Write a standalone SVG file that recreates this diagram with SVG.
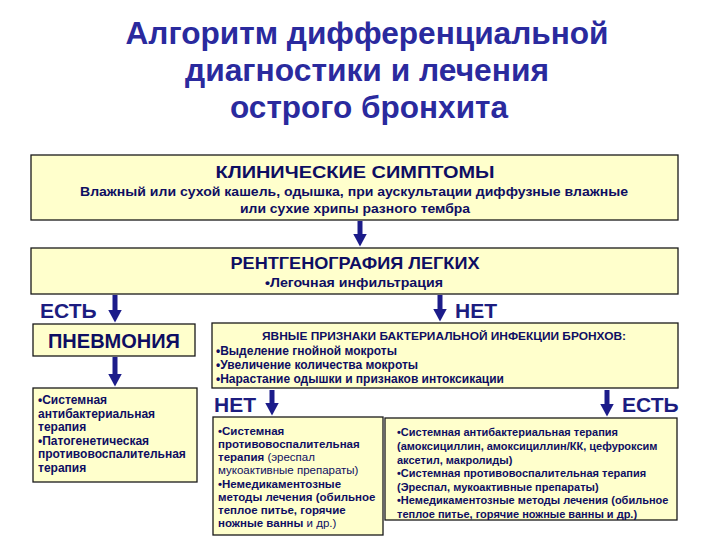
<svg xmlns="http://www.w3.org/2000/svg" width="720" height="540" viewBox="0 0 720 540">
<defs>
<style>
text{font-family:"Liberation Sans",Arial,"DejaVu Sans",sans-serif;fill:#0e0e62}
.title{font-size:31px;font-weight:bold;fill:#2a2a9e;text-anchor:middle}
.box{fill:#ffffcc;stroke:#1a1a1a;stroke-width:1.3}
.head{font-size:17px;font-weight:bold;text-anchor:middle}
.b13{font-size:13px;font-weight:bold;text-anchor:middle}
.lbl{font-size:21px;font-weight:bold;fill:#1c1c80}
.pn{font-size:20px;font-weight:bold;text-anchor:middle}
.sm{font-size:12px;font-weight:bold}
.smr{font-size:11px;font-weight:bold}
.mid{font-size:11.5px;font-weight:bold}
.reg{font-weight:normal}
.arr{stroke:#1c1c8a;stroke-width:5;fill:none}
</style>
<marker id="ah" markerUnits="userSpaceOnUse" markerWidth="14" markerHeight="16" viewBox="0 -8 14 16" refX="0.5" refY="0" orient="auto">
<path d="M0,-7 L13,0 L0,7 Z" fill="#1c1c8a"/>
</marker>
</defs>
<rect width="720" height="540" fill="#ffffff"/>

<g id="title">
<text class="title" x="367" y="44" textLength="483" lengthAdjust="spacingAndGlyphs">Алгоритм дифференциальной</text>
<text class="title" x="367" y="81" textLength="364" lengthAdjust="spacingAndGlyphs">диагностики и лечения</text>
<text class="title" x="369" y="118" textLength="278" lengthAdjust="spacingAndGlyphs">острого бронхита</text>
</g>

<g id="connectors">
<line class="arr" x1="360" y1="221" x2="360" y2="234" marker-end="url(#ah)"/>
<line class="arr" x1="115" y1="295" x2="115" y2="310" marker-end="url(#ah)"/>
<line class="arr" x1="440" y1="295" x2="440" y2="309" marker-end="url(#ah)"/>
<line class="arr" x1="115" y1="357" x2="115" y2="374" marker-end="url(#ah)"/>
<line class="arr" x1="272" y1="390" x2="272" y2="403" marker-end="url(#ah)"/>
<line class="arr" x1="607" y1="390" x2="607" y2="404" marker-end="url(#ah)"/>
</g>

<g id="symptoms">
<rect class="box" x="31" y="155" width="647" height="65"/>
<text class="head" x="355" y="178" textLength="279" lengthAdjust="spacingAndGlyphs">КЛИНИЧЕСКИЕ СИМПТОМЫ</text>
<text class="b13" x="354" y="196" textLength="548" lengthAdjust="spacingAndGlyphs">Влажный или сухой кашель, одышка, при аускультации диффузные влажные</text>
<text class="b13" x="355" y="213" textLength="230" lengthAdjust="spacingAndGlyphs">или сухие хрипы разного тембра</text>
</g>

<g id="xray">
<rect class="box" x="31" y="248" width="647" height="46"/>
<text class="head" x="355" y="269" textLength="249" lengthAdjust="spacingAndGlyphs">РЕНТГЕНОГРАФИЯ ЛЕГКИХ</text>
<text class="b13" x="354" y="287" textLength="178" lengthAdjust="spacingAndGlyphs">•Легочная инфильтрация</text>
</g>

<g id="labels">
<text class="lbl" x="40" y="318">ЕСТЬ</text>
<text class="lbl" x="455" y="318">НЕТ</text>
<text class="lbl" x="214" y="412">НЕТ</text>
<text class="lbl" x="622" y="412">ЕСТЬ</text>
</g>

<g id="pneumonia">
<rect class="box" x="33" y="324" width="162" height="32"/>
<text class="pn" x="114" y="348">ПНЕВМОНИЯ</text>
</g>

<g id="bacterial">
<rect class="box" x="212" y="323" width="466" height="65"/>
<text class="smr" x="444" y="340" text-anchor="middle" textLength="364" lengthAdjust="spacingAndGlyphs">ЯВНЫЕ ПРИЗНАКИ БАКТЕРИАЛЬНОЙ ИНФЕКЦИИ БРОНХОВ:</text>
<text class="sm" x="216" y="355">•Выделение гнойной мокроты</text>
<text class="sm" x="216" y="369">•Увеличение количества мокроты</text>
<text class="sm" x="216" y="383">•Нарастание одышки и признаков интоксикации</text>
</g>

<g id="pneumonia-therapy">
<rect class="box" x="33" y="388" width="164" height="94"/>
<text class="sm" x="38" y="404">•Системная</text>
<text class="sm" x="38" y="417.5">антибактериальная</text>
<text class="sm" x="38" y="431">терапия</text>
<text class="sm" x="38" y="444.5">•Патогенетическая</text>
<text class="sm" x="38" y="458">противовоспалительная</text>
<text class="sm" x="38" y="471.5">терапия</text>
</g>

<g id="no-bacterial">
<rect class="box" x="213" y="417" width="170" height="118"/>
<text class="mid" x="218" y="435">•Системная</text>
<text class="mid" x="218" y="448">противовоспалительная</text>
<text class="mid" x="218" y="461">терапия <tspan class="reg">(эреспал</tspan></text>
<text class="mid reg" x="218" y="474">мукоактивные препараты)</text>
<text class="mid" x="218" y="488">•Немедикаментозные</text>
<text class="mid" x="218" y="501">методы лечения (обильное</text>
<text class="mid" x="218" y="514">теплое питье, горячие</text>
<text class="mid" x="218" y="527">ножные ванны <tspan class="reg">и др.)</tspan></text>
</g>

<g id="yes-bacterial">
<rect class="box" x="385" y="418" width="292" height="102"/>
<text class="smr" x="397" y="436">•Системная антибактериальная терапия</text>
<text class="smr" x="397" y="450">(амоксициллин, амоксициллин/КК, цефуроксим</text>
<text class="smr" x="397" y="464">аксетил,  макролиды)</text>
<text class="smr" x="397" y="477">•Системная противовоспалительная терапия</text>
<text class="smr" x="397" y="491">(Эреспал, мукоактивные препараты)</text>
<text class="smr" x="397" y="504">•Немедикаментозные методы лечения (обильное</text>
<text class="smr" x="397" y="518">теплое питье, горячие ножные ванны и др.)</text>
</g>
</svg>
